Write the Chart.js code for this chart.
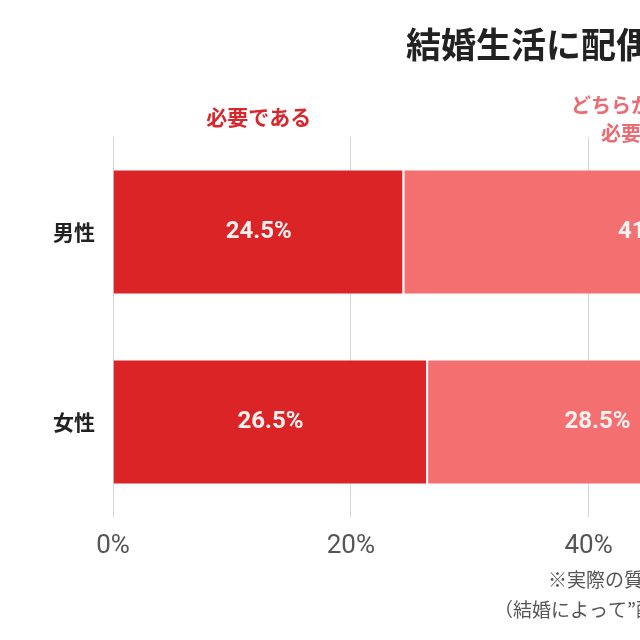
<!DOCTYPE html>
<html>
<head>
<meta charset="utf-8">
<script src="https://cdn.jsdelivr.net/npm/chart.js@4"></script>
<style>
  html, body { margin: 0; padding: 0; overflow: hidden; background: #fff; }
  #wrap { width: 640px; height: 640px; overflow: hidden; }
</style>
</head>
<body>
<div id="wrap"><canvas id="myChart"></canvas></div>
<script>
// data
var titleText = '結婚生活に配偶者は必要ですか';
var categories = ['男性', '女性'];
var seriesNames = ['必要である', 'どちらかといえば\n必要である', 'どちらかといえば\n必要ではない', '必要ではない'];
var needYes = [24.5, 26.5];
var needRatherYes = [41.5, 28.5];
var needRatherNo = [20.5, 25.0];
var needNo = [13.5, 20.0];
var xTicks = [0, 20, 40, 60, 80, 100];
var notes = [
	'※実際の質問文は「あなたは結婚生活において配偶者が必要だと思いますか」',
	'（結婚によって”配偶者”ができることについて）'
];

var barColors = ['#da2426', '#f46f70', '#f4a9a9', '#bdbdbd'];
var headColors = ['#d8262c', '#ec6a72', '#ef9a9a', '#999999'];
var headSizes = [21, 20, 20, 20];
var jp = '"Noto Sans CJK JP", "Noto Sans", sans-serif';

var allSeries = [needYes, needRatherYes, needRatherNo, needNo];

// the picture is the left part of a wide chart
var W = 1400, H = 640;
var canvas = document.getElementById('myChart');
canvas.width = W;
canvas.height = H;
canvas.style.width = W + 'px';
canvas.style.height = H + 'px';

var labelPlugin = {
	id: 'labelPlugin',
	afterDatasetsDraw: function (chart) {
		var ctx = chart.ctx;
		var xs = chart.scales.x;
		ctx.save();
		ctx.textAlign = 'center';
		ctx.textBaseline = 'middle';
		chart.data.datasets.forEach(function (ds, di) {
			var meta = chart.getDatasetMeta(di);
			meta.data.forEach(function (bar, i) {
				var start = 0;
				for (var k = 0; k < di; k++) start += allSeries[k][i];
				var mid = xs.getPixelForValue(start + ds.data[i] / 2);
				ctx.fillStyle = '#fbf1f1';
				ctx.font = 'bold 24px Roboto, sans-serif';
				ctx.fillText(ds.data[i].toFixed(1) + '%', mid, bar.y);
			});
			// series header above the first category
			var s0 = 0;
			for (var k = 0; k < di; k++) s0 += allSeries[k][0];
			var hx = xs.getPixelForValue(s0 + ds.data[0] / 2);
			var lines = ds.label.split('\n');
			ctx.fillStyle = headColors[di];
			ctx.font = 'bold ' + headSizes[di] + 'px ' + jp;
			if (lines.length === 1) {
				ctx.fillText(lines[0], hx, 117);
			} else {
				ctx.fillText(lines[0], hx, 105);
				ctx.fillText(lines[1], hx, 133);
			}
		});
		// footnotes
		ctx.textAlign = 'left';
		ctx.fillStyle = '#555';
		ctx.font = '19px ' + jp;
		ctx.fillText(notes[0], 548, 580);
		ctx.fillText(notes[1], 494, 610);
		ctx.restore();
	}
};

var datasets = allSeries.map(function (vals, i) {
	return {
		label: seriesNames[i],
		data: vals,
		backgroundColor: barColors[i],
		borderColor: 'rgba(255,255,255,0.6)',
		borderWidth: { left: 0, right: 2, top: 1, bottom: 1 },
		borderSkipped: false,
		categoryPercentage: 1,
		barPercentage: 0.658
	};
});

var chart = new Chart(canvas.getContext('2d'), {
	type: 'bar',
	data: {
		labels: categories,
		datasets: datasets
	},
	plugins: [labelPlugin],
	options: {
		indexAxis: 'y',
		responsive: false,
		animation: false,
		devicePixelRatio: 1,
		layout: {
			padding: { left: 0, right: W - 1302, top: 0, bottom: 78 }
		},
		plugins: {
			legend: { display: false },
			tooltip: { enabled: false },
			title: {
				display: true,
				text: titleText,
				color: '#222',
				font: { family: jp, size: 35, weight: 'bold', lineHeight: 1.2 },
				padding: { top: 24, bottom: 71 }
			}
		},
		scales: {
			x: {
				stacked: true,
				min: 0,
				max: 100,
				afterBuildTicks: function (scale) {
					scale.ticks = xTicks.map(function (v) { return { value: v }; });
				},
				afterFit: function (scale) { scale.height = 45; },
				grid: { color: '#d6d6d6', lineWidth: 1, drawTicks: false },
				border: { display: false },
				ticks: {
					padding: 14,
					color: '#555',
					font: { family: '"Liberation Sans Narrow", Roboto, sans-serif', size: 26 },
					callback: function (v) { return v + '%'; }
				}
			},
			y: {
				stacked: true,
				afterFit: function (scale) { scale.width = 113; },
				grid: { display: false, drawTicks: false },
				border: { display: false },
				ticks: {
					padding: 18,
					color: '#222',
					font: { family: jp, size: 21, weight: 'bold' }
				}
			}
		}
	}
});
</script>
</body>
</html>
